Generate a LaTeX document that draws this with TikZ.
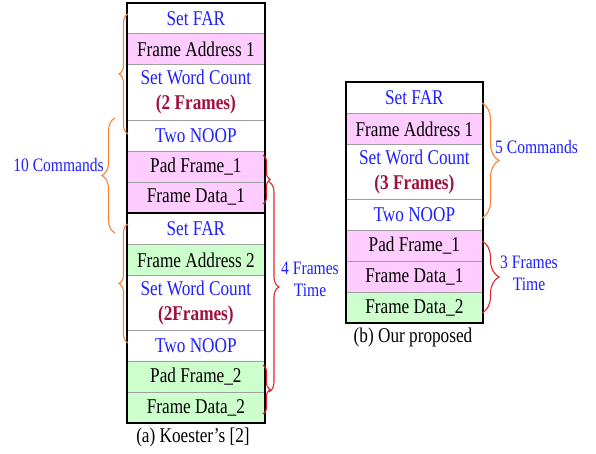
\documentclass[tikz,border=0pt]{standalone}
\usepackage{fontspec}
\setmainfont{Liberation Serif}[FakeStretch=0.82]
\usetikzlibrary{decorations.pathreplacing}
\definecolor{pk}{HTML}{FFCCFF}
\definecolor{gr}{HTML}{CCFFCC}
\definecolor{bl}{HTML}{1F1FFF}
\definecolor{mr}{HTML}{A0103C}
\definecolor{org}{HTML}{FF8030}
\definecolor{rd}{HTML}{E02828}
\begin{document}
\begin{tikzpicture}[x=1pt,y=-1pt,
  row/.style={draw=gray!75, line width=0.8pt, minimum width=137pt, inner sep=0pt,
    anchor=north west, font=\fontsize{21}{25}\selectfont, align=center},
  rrow/.style={row, minimum width=136pt},
  cmd/.style={text=bl},
  lbl/.style={text=bl, font=\fontsize{19}{22}\selectfont, inner sep=0pt},
  captxt/.style={font=\fontsize{21}{24}\selectfont, inner sep=0pt},
  brc/.style={decorate, decoration={brace, amplitude=#1}, line width=1.1pt},
  outer/.style={line width=2.5pt, draw=black}]
\useasboundingbox (0,0) rectangle (596,454);
% left column
\node[row, cmd, minimum height=30pt] (L1) at (127,3) {Set FAR};
\node[row, fill=pk, minimum height=31pt] (L2) at (127,33) {Frame Address 1};
\node[row, cmd, minimum height=56pt] (L3) at (127,64) {Set Word Count\\\textcolor{mr}{\textbf{(2 Frames)}}};
\node[row, cmd, minimum height=31pt] (L4) at (127,120) {Two NOOP};
\node[row, fill=pk, minimum height=31pt] (L5) at (127,151) {Pad Frame\_1};
\node[row, fill=pk, minimum height=30pt] (L6) at (127,182) {Frame Data\_1};
\node[row, cmd, minimum height=32pt] (L7) at (127,212) {Set FAR};
\node[row, fill=gr, minimum height=31pt] (L8) at (127,244) {Frame Address 2};
\node[row, cmd, minimum height=55pt] (L9) at (127,275) {Set Word Count\\\textcolor{mr}{\textbf{(2Frames)}}};
\node[row, cmd, minimum height=31pt] (L10) at (127,330) {Two NOOP};
\node[row, fill=gr, minimum height=31pt] (L11) at (127,361) {Pad Frame\_2};
\node[row, fill=gr, minimum height=30pt] (L12) at (127,392) {Frame Data\_2};
\draw[outer] (L1.north west) rectangle (L12.south east);
\draw[outer] (L6.south west) -- (L6.south east);
% right column
\node[rrow, cmd, minimum height=31pt] (R1) at (346,82) {Set FAR};
\node[rrow, fill=pk, minimum height=31pt] (R2) at (346,113) {Frame Address 1};
\node[rrow, cmd, minimum height=55pt] (R3) at (346,144) {Set Word Count\\\textcolor{mr}{\textbf{(3 Frames)}}};
\node[rrow, cmd, minimum height=31pt] (R4) at (346,199) {Two NOOP};
\node[rrow, fill=pk, minimum height=31pt] (R5) at (346,230) {Pad Frame\_1};
\node[rrow, fill=pk, minimum height=31pt] (R6) at (346,261) {Frame Data\_1};
\node[rrow, fill=gr, minimum height=30pt] (R7) at (346,292) {Frame Data\_2};
\draw[outer] (R1.north west) rectangle (R7.south east);
% brace end points
\coordinate (a1t) at (128,14);  \coordinate (a1b) at (128,134);
\coordinate (a2t) at (128,224); \coordinate (a2b) at (128,343);
\coordinate (a3t) at (115,118); \coordinate (a3b) at (115,233);
\coordinate (r1t) at (263,155); \coordinate (r1b) at (263,204);
\coordinate (r2t) at (269,182); \coordinate (r2b) at (269,392);
\coordinate (r3t) at (263,365); \coordinate (r3b) at (263,414);
\coordinate (s1t) at (482,103); \coordinate (s1b) at (482,218);
\coordinate (s2t) at (482,241); \coordinate (s2b) at (482,313);
\draw[brc=9, org] (a1b) -- (a1t);
\draw[brc=9, org] (a2b) -- (a2t);
\draw[brc=13, org] (a3b) -- (a3t);
\draw[brc=7, rd] (r1t) -- (r1b);
\draw[brc=10, rd] (r2t) -- (r2b);
\draw[brc=7, rd] (r3t) -- (r3b);
\draw[brc=17, org] (s1t) -- (s1b);
\draw[brc=17, rd] (s2t) -- (s2b);
% labels
\node[lbl, anchor=east] (t10) at (104,165) {10 Commands};
\node[lbl, align=center] (t4) at (310,279) {4 Frames\\Time};
\node[lbl, anchor=west] (t5) at (495,147) {5 Commands};
\node[lbl, align=center] (t3) at (529,273) {3 Frames\\Time};
\node[captxt] (ca) at (193,437) {(a) Koester’s [2]};
\node[captxt] (cb) at (413,337) {(b) Our proposed};
\end{tikzpicture}
\end{document}
